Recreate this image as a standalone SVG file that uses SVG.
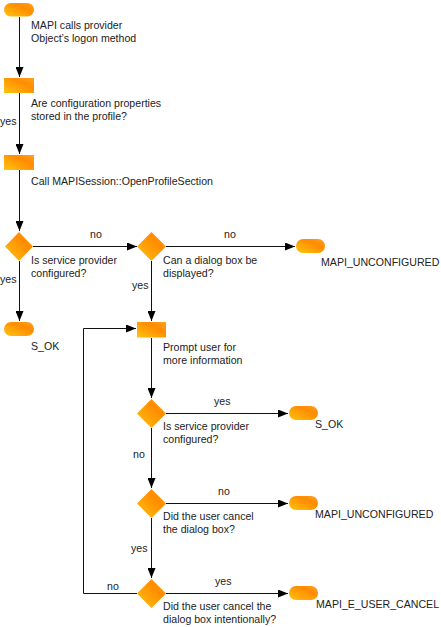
<svg xmlns="http://www.w3.org/2000/svg" width="441" height="627" viewBox="0 0 441 627">
<defs>
<linearGradient id="g" x1="0" y1="1" x2="1" y2="0">
<stop offset="0" stop-color="#FFC410"/>
<stop offset="0.65" stop-color="#FF8C00"/>
<stop offset="1" stop-color="#FFA020"/>
</linearGradient>
<marker id="ah" markerUnits="userSpaceOnUse" markerWidth="10" markerHeight="8" refX="10" refY="4" orient="auto">
<path d="M0,0 L10,4 L0,8 z" fill="#000"/>
</marker>
<style>
text{font-family:"Liberation Sans",Arial,sans-serif;font-size:10.6px;fill:#222}
.shape{fill:url(#g);stroke:none}
.c{fill:none;stroke:#111;stroke-width:1}
.a{marker-end:url(#ah)}
</style>
</defs>
<rect width="441" height="627" fill="#fff"/>
<g id="connectors">
<path class="c a" d="M19.5,17 V77"/>
<path class="c a" d="M19.5,93 V154"/>
<path class="c a" d="M19.5,170 V231"/>
<path class="c a" d="M33,246.5 H137"/>
<path class="c a" d="M19.5,261 V321"/>
<path class="c a" d="M166,246.5 H295"/>
<path class="c a" d="M151.5,261 V321"/>
<path class="c a" d="M137,593.5 H83.5 V328.5 H136"/>
<path class="c a" d="M151.5,338 V398"/>
<path class="c a" d="M166,413.5 H288"/>
<path class="c a" d="M151.5,428 V488"/>
<path class="c a" d="M166,503.5 H288"/>
<path class="c a" d="M151.5,518 V578"/>
<path class="c a" d="M166,593.5 H288"/>
<text x="90" y="238">no</text>
<text x="0" y="125">yes</text>
<text x="0" y="283">yes</text>
<text x="224" y="238">no</text>
<text x="132" y="289">yes</text>
<text x="214" y="405">yes</text>
<text x="133" y="458">no</text>
<text x="218" y="495">no</text>
<text x="131" y="552">yes</text>
<text x="215" y="585">yes</text>
<text x="107" y="590">no</text>
</g>
<g id="start">
<rect class="shape" x="4" y="3" width="30" height="13.5" rx="6.75"/>
<text x="31" y="29">MAPI calls provider</text>
<text x="31" y="42">Object’s logon method</text>
</g>
<g id="check-config">
<rect class="shape" x="4" y="78" width="30" height="15"/>
<text x="31" y="107">Are configuration properties</text>
<text x="31" y="120">stored in the profile?</text>
</g>
<g id="open-profile">
<rect class="shape" x="4" y="155" width="30" height="15"/>
<text x="31" y="185">Call MAPISession::OpenProfileSection</text>
</g>
<g id="decision1">
<path class="shape" d="M19,232 L33,246.5 L19,261 L5,246.5 z"/>
<text x="31" y="264">Is service provider</text>
<text x="31" y="277">configured?</text>
</g>
<g id="sok1">
<rect class="shape" x="4" y="322" width="30" height="14" rx="7"/>
<text x="31" y="350">S_OK</text>
</g>
<g id="decision2">
<path class="shape" d="M151.5,232 L166,246.5 L151.5,261 L137,246.5 z"/>
<text x="163" y="264">Can a dialog box be</text>
<text x="163" y="277">displayed?</text>
</g>
<g id="unconfigured1">
<rect class="shape" x="296" y="239" width="29" height="14" rx="7"/>
<text x="321" y="266">MAPI_UNCONFIGURED</text>
</g>
<g id="prompt">
<rect class="shape" x="137" y="322" width="29" height="15.5"/>
<text x="163" y="351">Prompt user for</text>
<text x="163" y="364">more information</text>
</g>
<g id="decision3">
<path class="shape" d="M151.5,399 L166,413.5 L151.5,428 L137,413.5 z"/>
<text x="163" y="430">Is service provider</text>
<text x="163" y="443">configured?</text>
</g>
<g id="sok2">
<rect class="shape" x="289" y="406" width="29" height="14" rx="7"/>
<text x="315" y="428">S_OK</text>
</g>
<g id="decision4">
<path class="shape" d="M151.5,489 L166,503.5 L151.5,518 L137,503.5 z"/>
<text x="163" y="520">Did the user cancel</text>
<text x="163" y="533">the dialog box?</text>
</g>
<g id="unconfigured2">
<rect class="shape" x="289" y="496" width="29" height="14" rx="7"/>
<text x="315" y="518">MAPI_UNCONFIGURED</text>
</g>
<g id="decision5">
<path class="shape" d="M151.5,579 L166,593.5 L151.5,608 L137,593.5 z"/>
<text x="163" y="610">Did the user cancel the</text>
<text x="163" y="623">dialog box intentionally?</text>
</g>
<g id="usercancel">
<rect class="shape" x="289" y="586" width="29" height="14" rx="7"/>
<text x="316" y="608">MAPI_E_USER_CANCEL</text>
</g>
</svg>
